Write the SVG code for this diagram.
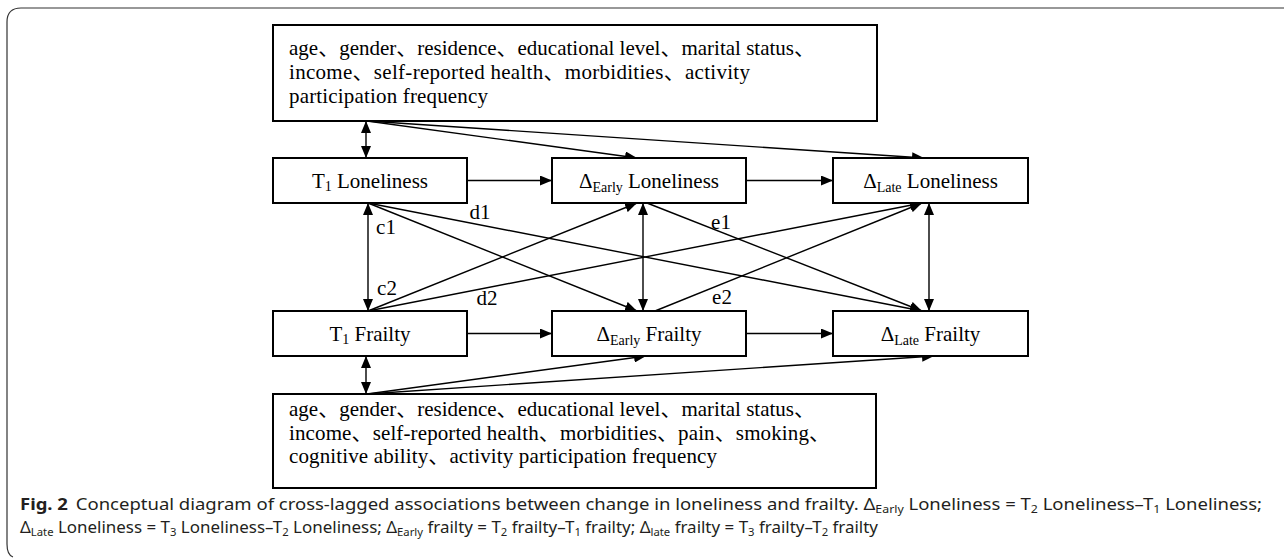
<svg xmlns="http://www.w3.org/2000/svg" width="1284" height="559" viewBox="0 0 1284 559">
<defs>
<marker id="ah" viewBox="0 0 12 10" refX="12" refY="5" markerWidth="12" markerHeight="10" markerUnits="userSpaceOnUse" orient="auto-start-reverse">
<path d="M0,0 L12,5 L0,10 z" fill="#000"/>
</marker>
<style>
.box{fill:#fff;stroke:#000;stroke-width:2}
.nt{font-family:"Liberation Serif","Times New Roman",serif;font-size:21px;fill:#000;text-anchor:middle}
.bt{font-family:"Liberation Serif","Noto Sans CJK SC",serif;font-size:21px;fill:#000}
.lbl{font-family:"Liberation Serif","Times New Roman",serif;font-size:21px;fill:#000;text-anchor:middle}
.sub{font-size:14px}
.cn line{stroke:#000;stroke-width:1.4;fill:none;marker-end:url(#ah)}
.cn line.dbl{marker-start:url(#ah)}
.cap{font-family:"Noto Sans","Open Sans",sans-serif;font-size:16.5px;fill:#231f20}
.csub{font-size:11px}
</style>
</defs>
<rect width="1284" height="559" fill="#fff"/>
<path d="M1284,8 H21 Q7,8 7,22 V544 Q7,555 13,557" fill="none" stroke="#333" stroke-width="1.2"/>

<g id="connectors" class="cn">
<line class="dbl" x1="366" y1="121" x2="366" y2="158"/>
<line x1="367" y1="121" x2="637" y2="158"/>
<line x1="367" y1="121" x2="924" y2="158"/>
<line x1="467" y1="180.5" x2="552" y2="180.5"/>
<line x1="746" y1="180.5" x2="833" y2="180.5"/>
<line x1="467" y1="333.5" x2="552" y2="333.5"/>
<line x1="746" y1="333.5" x2="833" y2="333.5"/>
<line class="dbl" x1="368" y1="203" x2="368" y2="311"/>
<line class="dbl" x1="643" y1="203" x2="643" y2="311"/>
<line class="dbl" x1="929" y1="203" x2="929" y2="311"/>
<line x1="368" y1="203" x2="637" y2="311"/>
<line x1="368" y1="203" x2="922" y2="311"/>
<line x1="368" y1="311" x2="637" y2="203"/>
<line x1="368" y1="311" x2="922" y2="203"/>
<line x1="647" y1="203" x2="922" y2="311"/>
<line x1="655" y1="311" x2="922" y2="203"/>
<line class="dbl" x1="366" y1="356" x2="366" y2="394"/>
<line x1="367" y1="394" x2="646" y2="356"/>
<line x1="367" y1="394" x2="934" y2="356"/>
</g>

<g id="labels">
<text class="lbl" x="386" y="234">c1</text>
<text class="lbl" x="387" y="295">c2</text>
<text class="lbl" x="480" y="219">d1</text>
<text class="lbl" x="487" y="305">d2</text>
<text class="lbl" x="721" y="229">e1</text>
<text class="lbl" x="722" y="304">e2</text>
</g>

<g id="covariates-top">
<rect class="box" x="273" y="25" width="604" height="96"/>
<text class="bt" x="289" y="55" textLength="526">age、gender、residence、educational level、marital status、</text>
<text class="bt" x="289" y="79" textLength="461">income、self-reported health、morbidities、activity</text>
<text class="bt" x="289" y="103" textLength="199">participation frequency</text>
</g>

<g id="t1-loneliness">
<rect class="box" x="273" y="158" width="194" height="45"/>
<text class="nt" x="370" y="188">T<tspan class="sub" dy="3">1</tspan><tspan dy="-3"> Loneliness</tspan></text>
</g>
<g id="early-loneliness">
<rect class="box" x="552" y="158" width="194" height="45"/>
<text class="nt" x="649" y="188">Δ<tspan class="sub" dy="4">Early</tspan><tspan dy="-4"> Loneliness</tspan></text>
</g>
<g id="late-loneliness">
<rect class="box" x="833" y="158" width="195" height="45"/>
<text class="nt" x="930.5" y="188">Δ<tspan class="sub" dy="4">Late</tspan><tspan dy="-4"> Loneliness</tspan></text>
</g>

<g id="t1-frailty">
<rect class="box" x="273" y="311" width="194" height="45"/>
<text class="nt" x="370" y="341">T<tspan class="sub" dy="3">1</tspan><tspan dy="-3"> Frailty</tspan></text>
</g>
<g id="early-frailty">
<rect class="box" x="552" y="311" width="194" height="45"/>
<text class="nt" x="649" y="341">Δ<tspan class="sub" dy="4">Early</tspan><tspan dy="-4"> Frailty</tspan></text>
</g>
<g id="late-frailty">
<rect class="box" x="833" y="311" width="195" height="45"/>
<text class="nt" x="930.5" y="341">Δ<tspan class="sub" dy="4">Late</tspan><tspan dy="-4"> Frailty</tspan></text>
</g>

<g id="covariates-bottom">
<rect class="box" x="273" y="394" width="603" height="94"/>
<text class="bt" x="289" y="416" textLength="526">age、gender、residence、educational level、marital status、</text>
<text class="bt" x="289" y="440" textLength="541">income、self-reported health、morbidities、pain、smoking、</text>
<text class="bt" x="289" y="463" textLength="428">cognitive ability、activity participation frequency</text>
</g>

<g id="caption">
<text class="cap" x="20" y="510" textLength="1242" lengthAdjust="spacingAndGlyphs"><tspan font-weight="bold">Fig. 2</tspan><tspan dx="7">Conceptual diagram of cross-lagged associations between change in loneliness and frailty. Δ</tspan><tspan class="csub" dy="3">Early</tspan><tspan dy="-3"> Loneliness = T</tspan><tspan class="csub" dy="3">2</tspan><tspan dy="-3"> Loneliness–T</tspan><tspan class="csub" dy="3">1</tspan><tspan dy="-3"> Loneliness;</tspan></text>
<text class="cap" x="20" y="533" textLength="858" lengthAdjust="spacingAndGlyphs">Δ<tspan class="csub" dy="3">Late</tspan><tspan dy="-3"> Loneliness = T</tspan><tspan class="csub" dy="3">3</tspan><tspan dy="-3"> Loneliness–T</tspan><tspan class="csub" dy="3">2</tspan><tspan dy="-3"> Loneliness; Δ</tspan><tspan class="csub" dy="3">Early</tspan><tspan dy="-3"> frailty = T</tspan><tspan class="csub" dy="3">2</tspan><tspan dy="-3"> frailty–T</tspan><tspan class="csub" dy="3">1</tspan><tspan dy="-3"> frailty; Δ</tspan><tspan class="csub" dy="3">late</tspan><tspan dy="-3"> frailty = T</tspan><tspan class="csub" dy="3">3</tspan><tspan dy="-3"> frailty–T</tspan><tspan class="csub" dy="3">2</tspan><tspan dy="-3"> frailty</tspan></text>
</g>
</svg>
